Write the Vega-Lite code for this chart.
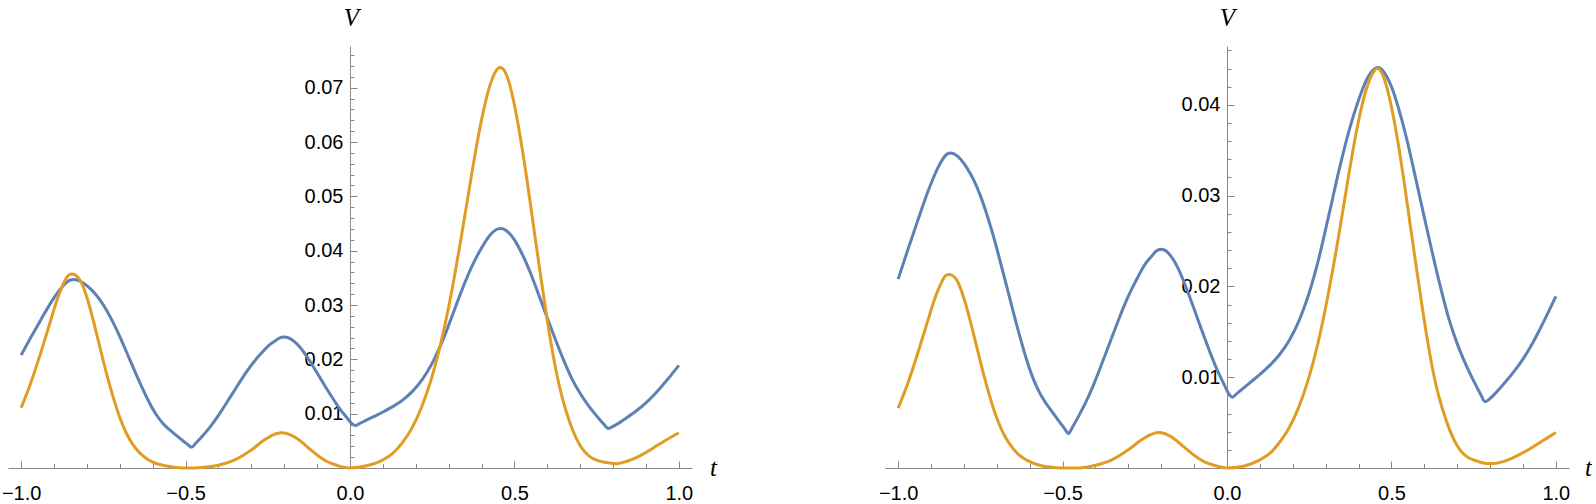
{
  "$schema": "https://vega.github.io/schema/vega-lite/v6.json",
  "background": "white",
  "padding": {"left": 1, "top": 5, "right": 0, "bottom": 0},
  "bounds": "flush",
  "spacing": 193,
  "config": {
    "view": {"stroke": null},
    "axis": {
      "grid": false,
      "domainColor": "#888888",
      "tickColor": "#888888",
      "domainWidth": 1,
      "tickWidth": 1,
      "labelColor": "#000000",
      "labelFont": "Liberation Sans",
      "labelFontSize": 20,
      "labelFlush": false,
      "labelOverlap": false,
      "labelBound": false,
      "titleFont": "Liberation Serif",
      "titleFontStyle": "italic",
      "titleFontWeight": "normal",
      "titleFontSize": 25,
      "titleColor": "#000000"
    }
  },
  "datasets": {
    "blue": [
      {"t": -1.0, "V": 0.0208}, {"t": -0.97, "V": 0.0241}, {"t": -0.94, "V": 0.0273}, {"t": -0.91, "V": 0.0304},
      {"t": -0.88, "V": 0.0330}, {"t": -0.865, "V": 0.0340}, {"t": -0.85, "V": 0.0346}, {"t": -0.84, "V": 0.0347},
      {"t": -0.83, "V": 0.0346}, {"t": -0.81, "V": 0.0340}, {"t": -0.79, "V": 0.0330}, {"t": -0.77, "V": 0.0317},
      {"t": -0.75, "V": 0.0300}, {"t": -0.73, "V": 0.0279}, {"t": -0.71, "V": 0.0255}, {"t": -0.69, "V": 0.0228},
      {"t": -0.67, "V": 0.0200}, {"t": -0.65, "V": 0.0172}, {"t": -0.63, "V": 0.0145}, {"t": -0.61, "V": 0.0120},
      {"t": -0.59, "V": 0.0099}, {"t": -0.57, "V": 0.0083}, {"t": -0.55, "V": 0.0071}, {"t": -0.53, "V": 0.0061},
      {"t": -0.51, "V": 0.0051}, {"t": -0.495, "V": 0.0044}, {"t": -0.482, "V": 0.0038}, {"t": -0.47, "V": 0.0045},
      {"t": -0.45, "V": 0.0058}, {"t": -0.43, "V": 0.0072}, {"t": -0.41, "V": 0.0088}, {"t": -0.39, "V": 0.0106},
      {"t": -0.37, "V": 0.0125}, {"t": -0.35, "V": 0.0144}, {"t": -0.33, "V": 0.0163}, {"t": -0.31, "V": 0.0181},
      {"t": -0.29, "V": 0.0197}, {"t": -0.27, "V": 0.0211}, {"t": -0.25, "V": 0.0224}, {"t": -0.23, "V": 0.0233},
      {"t": -0.215, "V": 0.0239}, {"t": -0.20, "V": 0.0241}, {"t": -0.185, "V": 0.0239}, {"t": -0.17, "V": 0.0233},
      {"t": -0.15, "V": 0.0221}, {"t": -0.13, "V": 0.0204}, {"t": -0.11, "V": 0.0185}, {"t": -0.09, "V": 0.0165},
      {"t": -0.07, "V": 0.0145}, {"t": -0.05, "V": 0.0126}, {"t": -0.03, "V": 0.0108}, {"t": -0.01, "V": 0.0093},
      {"t": 0.005, "V": 0.0082}, {"t": 0.016, "V": 0.0078}, {"t": 0.03, "V": 0.0082}, {"t": 0.05, "V": 0.0088},
      {"t": 0.07, "V": 0.0094}, {"t": 0.10, "V": 0.0103}, {"t": 0.13, "V": 0.0113}, {"t": 0.16, "V": 0.0125},
      {"t": 0.19, "V": 0.0141}, {"t": 0.22, "V": 0.0163}, {"t": 0.25, "V": 0.0193}, {"t": 0.28, "V": 0.0232},
      {"t": 0.31, "V": 0.0279}, {"t": 0.34, "V": 0.0327}, {"t": 0.37, "V": 0.0370}, {"t": 0.40, "V": 0.0405},
      {"t": 0.425, "V": 0.0428}, {"t": 0.45, "V": 0.0440}, {"t": 0.46, "V": 0.0441}, {"t": 0.475, "V": 0.0437},
      {"t": 0.50, "V": 0.0420}, {"t": 0.525, "V": 0.0392}, {"t": 0.55, "V": 0.0357}, {"t": 0.575, "V": 0.0317},
      {"t": 0.60, "V": 0.0276}, {"t": 0.625, "V": 0.0236}, {"t": 0.65, "V": 0.0198}, {"t": 0.675, "V": 0.0164},
      {"t": 0.70, "V": 0.0137}, {"t": 0.725, "V": 0.0115}, {"t": 0.75, "V": 0.0096}, {"t": 0.77, "V": 0.0082},
      {"t": 0.785, "V": 0.0073}, {"t": 0.795, "V": 0.0075}, {"t": 0.81, "V": 0.0080}, {"t": 0.84, "V": 0.0092},
      {"t": 0.87, "V": 0.0105}, {"t": 0.90, "V": 0.0120}, {"t": 0.93, "V": 0.0138}, {"t": 0.96, "V": 0.0159},
      {"t": 1.0, "V": 0.0189}
    ],
    "orangeLeft": [
      {"t": -1.0, "V": 0.0111}, {"t": -0.97, "V": 0.0158}, {"t": -0.94, "V": 0.0213}, {"t": -0.91, "V": 0.0272},
      {"t": -0.89, "V": 0.0311}, {"t": -0.87, "V": 0.0341}, {"t": -0.855, "V": 0.0355}, {"t": -0.845, "V": 0.0357},
      {"t": -0.835, "V": 0.0355}, {"t": -0.82, "V": 0.0345}, {"t": -0.80, "V": 0.0314}, {"t": -0.78, "V": 0.0270},
      {"t": -0.76, "V": 0.0221}, {"t": -0.74, "V": 0.0173}, {"t": -0.72, "V": 0.0130}, {"t": -0.70, "V": 0.0093},
      {"t": -0.68, "V": 0.0064}, {"t": -0.66, "V": 0.0043}, {"t": -0.64, "V": 0.0028}, {"t": -0.62, "V": 0.0018},
      {"t": -0.60, "V": 0.0011}, {"t": -0.57, "V": 0.0005}, {"t": -0.54, "V": 0.0002}, {"t": -0.50, "V": 0.0000},
      {"t": -0.45, "V": 0.0001}, {"t": -0.40, "V": 0.0005}, {"t": -0.35, "V": 0.0015}, {"t": -0.30, "V": 0.0033},
      {"t": -0.26, "V": 0.0052}, {"t": -0.23, "V": 0.0062}, {"t": -0.21, "V": 0.0065}, {"t": -0.19, "V": 0.0063},
      {"t": -0.16, "V": 0.0054}, {"t": -0.13, "V": 0.0039}, {"t": -0.10, "V": 0.0024}, {"t": -0.07, "V": 0.0012},
      {"t": -0.04, "V": 0.0005}, {"t": 0.0, "V": 0.0000}, {"t": 0.05, "V": 0.0004}, {"t": 0.10, "V": 0.0015},
      {"t": 0.13, "V": 0.0027}, {"t": 0.157, "V": 0.0045}, {"t": 0.187, "V": 0.0072}, {"t": 0.217, "V": 0.0111},
      {"t": 0.247, "V": 0.0163}, {"t": 0.277, "V": 0.0232}, {"t": 0.307, "V": 0.0318}, {"t": 0.337, "V": 0.0420},
      {"t": 0.367, "V": 0.0530}, {"t": 0.397, "V": 0.0632}, {"t": 0.427, "V": 0.0707}, {"t": 0.442, "V": 0.0729},
      {"t": 0.457, "V": 0.0737}, {"t": 0.477, "V": 0.0722}, {"t": 0.497, "V": 0.0677}, {"t": 0.517, "V": 0.0612},
      {"t": 0.537, "V": 0.0535}, {"t": 0.557, "V": 0.0450}, {"t": 0.577, "V": 0.0365}, {"t": 0.597, "V": 0.0283},
      {"t": 0.617, "V": 0.0210}, {"t": 0.637, "V": 0.0150}, {"t": 0.657, "V": 0.0105}, {"t": 0.677, "V": 0.0070},
      {"t": 0.701, "V": 0.0040}, {"t": 0.727, "V": 0.0022}, {"t": 0.757, "V": 0.0013}, {"t": 0.79, "V": 0.0009},
      {"t": 0.81, "V": 0.0008}, {"t": 0.84, "V": 0.0012}, {"t": 0.88, "V": 0.0022}, {"t": 0.92, "V": 0.0036},
      {"t": 0.96, "V": 0.0051}, {"t": 1.0, "V": 0.0065}
    ],
    "orangeRight": [
      {"t": -1.0, "V": 0.0066}, {"t": -0.97, "V": 0.0094}, {"t": -0.94, "V": 0.0127}, {"t": -0.91, "V": 0.0162},
      {"t": -0.89, "V": 0.0185}, {"t": -0.87, "V": 0.0203}, {"t": -0.855, "V": 0.0212}, {"t": -0.845, "V": 0.0213},
      {"t": -0.835, "V": 0.0212}, {"t": -0.82, "V": 0.0206}, {"t": -0.80, "V": 0.0187}, {"t": -0.78, "V": 0.0161},
      {"t": -0.76, "V": 0.0132}, {"t": -0.74, "V": 0.0103}, {"t": -0.72, "V": 0.0077}, {"t": -0.70, "V": 0.0055},
      {"t": -0.68, "V": 0.0038}, {"t": -0.66, "V": 0.0026}, {"t": -0.64, "V": 0.0017}, {"t": -0.62, "V": 0.0011},
      {"t": -0.60, "V": 0.0007}, {"t": -0.57, "V": 0.0003}, {"t": -0.54, "V": 0.0001}, {"t": -0.50, "V": 0.0000},
      {"t": -0.45, "V": 0.0000}, {"t": -0.40, "V": 0.0003}, {"t": -0.35, "V": 0.0009}, {"t": -0.30, "V": 0.0020},
      {"t": -0.26, "V": 0.0031}, {"t": -0.23, "V": 0.0037}, {"t": -0.21, "V": 0.0039}, {"t": -0.19, "V": 0.0038},
      {"t": -0.16, "V": 0.0032}, {"t": -0.13, "V": 0.0023}, {"t": -0.10, "V": 0.0014}, {"t": -0.07, "V": 0.0007},
      {"t": -0.04, "V": 0.0003}, {"t": 0.0, "V": 0.0000}, {"t": 0.05, "V": 0.0002}, {"t": 0.10, "V": 0.0009},
      {"t": 0.13, "V": 0.0016}, {"t": 0.157, "V": 0.0027}, {"t": 0.187, "V": 0.0043}, {"t": 0.217, "V": 0.0066},
      {"t": 0.247, "V": 0.0097}, {"t": 0.277, "V": 0.0138}, {"t": 0.307, "V": 0.0190}, {"t": 0.337, "V": 0.0250},
      {"t": 0.367, "V": 0.0316}, {"t": 0.397, "V": 0.0377}, {"t": 0.427, "V": 0.0421}, {"t": 0.442, "V": 0.0434},
      {"t": 0.457, "V": 0.0440}, {"t": 0.477, "V": 0.0430}, {"t": 0.497, "V": 0.0403}, {"t": 0.517, "V": 0.0365},
      {"t": 0.537, "V": 0.0319}, {"t": 0.557, "V": 0.0268}, {"t": 0.577, "V": 0.0218}, {"t": 0.597, "V": 0.0169},
      {"t": 0.617, "V": 0.0125}, {"t": 0.637, "V": 0.0089}, {"t": 0.657, "V": 0.0063}, {"t": 0.677, "V": 0.0042},
      {"t": 0.701, "V": 0.0024}, {"t": 0.727, "V": 0.0013}, {"t": 0.757, "V": 0.0008}, {"t": 0.79, "V": 0.0005},
      {"t": 0.81, "V": 0.0005}, {"t": 0.84, "V": 0.0007}, {"t": 0.88, "V": 0.0013}, {"t": 0.92, "V": 0.0021},
      {"t": 0.96, "V": 0.0030}, {"t": 1.0, "V": 0.0039}
    ]
  },
  "hconcat": [
    {
      "width": 684,
      "height": 422,
      "resolve": {"axis": {"x": "independent", "y": "independent"}},
      "layer": [
        {
          "data": {"name": "blue"},
          "mark": {"type": "line", "color": "#5E81B5", "strokeWidth": 3, "interpolate": "monotone"},
          "encoding": {
            "x": {"field": "t", "type": "quantitative", "scale": {"domain": [-1.04, 1.04], "nice": false, "zero": false},
              "axis": {"orient": "bottom", "values": [-1, -0.5, 0, 0.5, 1], "format": ".1f", "tickSize": -7, "labelPadding": 22,
                "title": "t", "titleX": 705, "titleY": 7, "titleAngle": 0, "titleAlign": "center", "titleBaseline": "alphabetic"}},
            "y": {"field": "V", "type": "quantitative", "scale": {"domain": [0, 0.07767], "nice": false, "zero": false},
              "axis": {"orient": "left", "offset": -342, "values": [0.01, 0.02, 0.03, 0.04, 0.05, 0.06, 0.07], "format": ".2f", "tickSize": -7, "labelPadding": 14,
                "title": "V", "titleX": 1, "titleY": -21, "titleAngle": 0, "titleAlign": "center", "titleBaseline": "alphabetic"}}
          }
        },
        {
          "data": {"name": "orangeLeft"},
          "mark": {"type": "line", "color": "#E19C24", "strokeWidth": 3, "interpolate": "monotone"},
          "encoding": {
            "x": {"field": "t", "type": "quantitative",
              "axis": {"orient": "bottom", "values": [-0.9, -0.8, -0.7, -0.6, -0.4, -0.3, -0.2, -0.1, 0.1, 0.2, 0.3, 0.4, 0.6, 0.7, 0.8, 0.9], "tickSize": -4.5, "labels": false, "domain": false, "title": null}},
            "y": {"field": "V", "type": "quantitative",
              "axis": {"orient": "left", "offset": -342, "values": [0.002, 0.004, 0.006, 0.008, 0.012, 0.014, 0.016, 0.018, 0.022, 0.024, 0.026, 0.028, 0.032, 0.034, 0.036, 0.038, 0.042, 0.044, 0.046, 0.048, 0.052, 0.054, 0.056, 0.058, 0.062, 0.064, 0.066, 0.068, 0.072, 0.074, 0.076], "tickSize": -4, "labels": false, "domain": false, "title": null}}
          }
        }
      ]
    },
    {
      "width": 684,
      "height": 422,
      "resolve": {"axis": {"x": "independent", "y": "independent"}},
      "layer": [
        {
          "data": {"name": "blue"},
          "mark": {"type": "line", "color": "#5E81B5", "strokeWidth": 3, "interpolate": "monotone"},
          "encoding": {
            "x": {"field": "t", "type": "quantitative", "scale": {"domain": [-1.04, 1.04], "nice": false, "zero": false},
              "axis": {"orient": "bottom", "values": [-1, -0.5, 0, 0.5, 1], "format": ".1f", "tickSize": -7, "labelPadding": 22,
                "title": "t", "titleX": 703, "titleY": 7, "titleAngle": 0, "titleAlign": "center", "titleBaseline": "alphabetic"}},
            "y": {"field": "V", "type": "quantitative", "scale": {"domain": [0, 0.04648], "nice": false, "zero": false},
              "axis": {"orient": "left", "offset": -342, "values": [0.01, 0.02, 0.03, 0.04], "format": ".2f", "tickSize": -7, "labelPadding": 14,
                "title": "V", "titleX": 0, "titleY": -21, "titleAngle": 0, "titleAlign": "center", "titleBaseline": "alphabetic"}}
          }
        },
        {
          "data": {"name": "orangeRight"},
          "mark": {"type": "line", "color": "#E19C24", "strokeWidth": 3, "interpolate": "monotone"},
          "encoding": {
            "x": {"field": "t", "type": "quantitative",
              "axis": {"orient": "bottom", "values": [-0.9, -0.8, -0.7, -0.6, -0.4, -0.3, -0.2, -0.1, 0.1, 0.2, 0.3, 0.4, 0.6, 0.7, 0.8, 0.9], "tickSize": -4.5, "labels": false, "domain": false, "title": null}},
            "y": {"field": "V", "type": "quantitative",
              "axis": {"orient": "left", "offset": -342, "values": [0.002, 0.004, 0.006, 0.008, 0.012, 0.014, 0.016, 0.018, 0.022, 0.024, 0.026, 0.028, 0.032, 0.034, 0.036, 0.038, 0.042, 0.044, 0.046], "tickSize": -4, "labels": false, "domain": false, "title": null}}
          }
        }
      ]
    }
  ]
}
